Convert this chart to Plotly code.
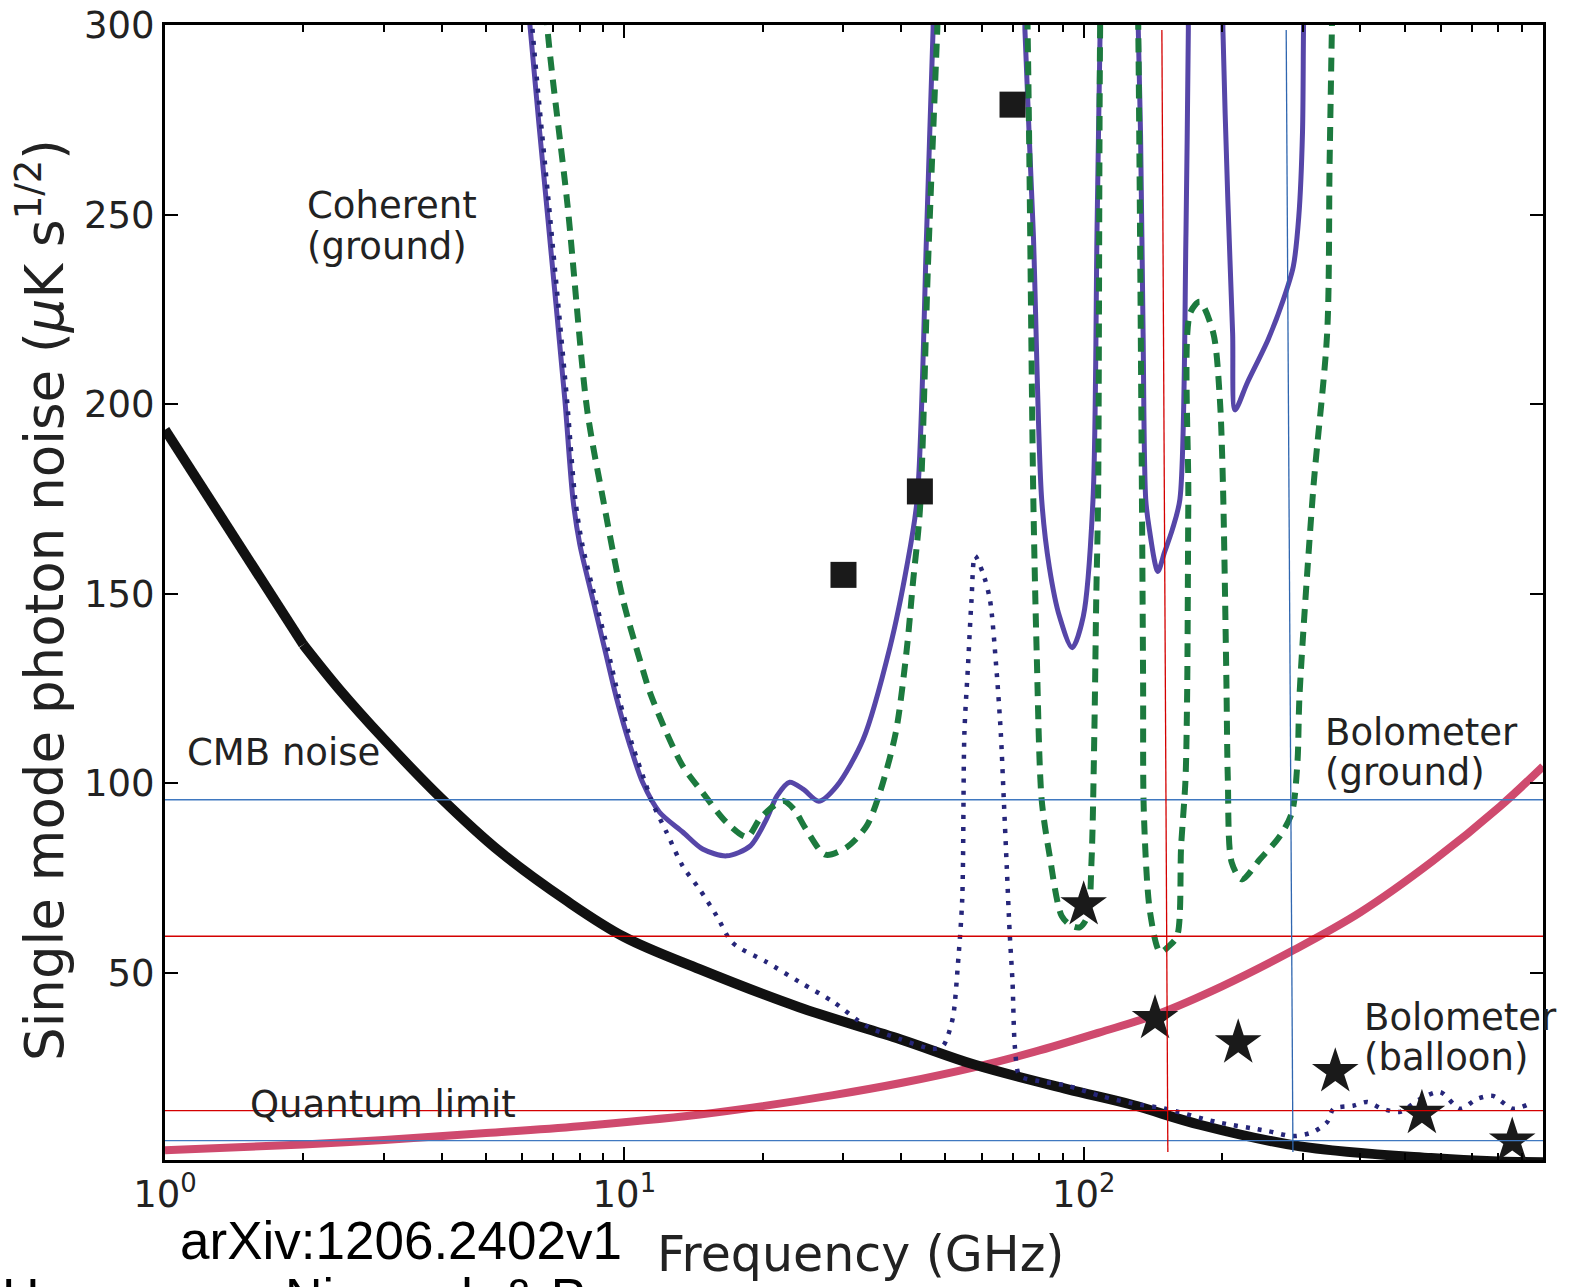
import plotly.graph_objects as go

# ---------------- data ----------------
# CMB noise (thick black)
cmb_freq = [1, 2, 2.4, 3, 4, 5.36, 7.5, 10, 14.6, 24, 40, 58, 92, 128, 179, 296, 570, 800, 1000]
cmb_noise = [193.3, 136.6, 124.7, 111.6, 96, 82, 69, 59.5, 51, 41, 32.5, 25.8, 19.4, 15.2, 10, 4.3, 1.2, 0.3, 0.1]

# Quantum limit (thick pink)
ql_freq = [1, 2, 3, 5, 8, 14.6, 20, 28.5, 40, 58, 78, 108, 145, 200, 286, 400, 575, 807, 1000]
ql_noise = [3.3, 4.8, 6.0, 7.8, 9.6, 12.7, 14.9, 17.8, 21, 25.2, 29.2, 34.3, 39.2, 46.5, 56, 66, 79.5, 94, 104.5]

# Coherent (ground), solid purple
coh_freq = [5.9, 6.23, 6.82, 7.42, 7.73, 8.0, 8.54, 9.07, 9.63, 10.27, 10.96, 11.93, 13.4, 14.8, 16.7, 18.8,
            20.4, 21.5, 22.9, 24.5, 26.5, 29.0, 33.1, 37.9, 41.2, 43.4, 45.5, 47.0, 48.5,
            73.5, 74.5, 77.7, 81.0, 84.2, 88.6, 94.4, 99.8, 104.8, 106.9, 108.6, 110,
            130, 131.5, 133, 134.7, 136.5, 139, 145, 150, 156, 162, 167, 169, 171,
            199, 201, 206, 211, 213.6, 227, 252, 272, 286, 294, 299.5, 301, 304]
coh_noise = [340, 300, 248.7, 201.3, 174.9, 163, 148.5, 135.3, 122.2, 110.3, 100.3, 92.4, 87.2, 82.7, 80.9, 83.5,
             90.6, 96.7, 100.3, 98.5, 95.3, 99.3, 111.6, 136.1, 157.2, 174.9, 245, 298.6, 340,
             340, 298.6, 245, 175, 157, 144, 135.8, 144, 174.9, 245, 298.6, 340,
             340, 298.6, 271, 218.8, 174.9, 167, 155.9, 161, 167, 174.9, 245, 298.6, 340,
             340, 298.6, 253.9, 218.8, 198.5, 205.6, 217, 227.5, 236.3, 249.5, 271.6, 298.6, 340]

# Coherent, dashed green
dash_freq = [6.5, 6.79, 7.52, 8.3, 8.99, 9.93, 10.97, 11.37, 12.35, 13.4, 14.8, 16.7, 18.5, 19.7, 21.1,
             22.2, 23.4, 24.9, 27.4, 30.5, 33.7, 36, 39, 41.2, 42.5, 44, 45.8, 48, 49.5,
             74, 75.5, 77.7, 79, 81, 84.2, 89.6, 94, 98.2, 102, 104, 105.5, 106.5, 107.5, 108.6, 110,
             130, 131.5, 133.5, 134.7, 135.2, 139.5, 146.7, 153, 159.7, 163, 166.6, 168, 169, 170.5,
             179, 191.5, 198, 201, 204.5, 206, 210, 221, 242, 267, 284, 292, 295, 316, 339, 343, 347, 352]
dash_noise = [340, 300, 252.6, 198.5, 174.9, 148.5, 130, 124, 113.4, 104.6, 97.6, 89.7, 85.9, 90.6, 94,
              95.4, 93.2, 87.8, 81.2, 83.2, 88.8, 97.6, 113.5, 135.4, 153, 172, 236, 298.6, 340,
              340, 298.6, 175, 135, 95.8, 81.4, 65, 62.5, 62.1, 65, 79.3, 113.4, 148.5, 175, 298.6, 340,
              340, 298.6, 200, 127.4, 92.4, 66, 55.5, 57, 59.7, 83.5, 101, 124, 175, 224,
              227, 218.8, 201, 179, 127.4, 101, 79.2, 74.7, 80, 86, 92.3, 105.5, 123, 177.4, 219, 262.6, 298.6, 340]

# Dotted navy
dot_freq = [6.0, 6.3, 6.9, 7.5, 7.82, 8.1, 8.65, 9.2, 9.75, 10.4, 11.1, 11.5, 12.35, 13.4, 14.6, 15.9, 17.2,
            20.4, 24.1, 28.5, 33.7, 39.8, 47, 49.4, 50.6, 52, 53.2, 54.4, 55, 56, 57, 58, 60.3, 62.5,
            64.5, 66, 67, 68, 69, 70, 70.9, 72.6, 80, 92, 108.6, 128, 150.6, 195, 250, 286, 316, 339,
            350, 386, 414, 447, 489, 540, 597, 660, 718, 778, 861, 951]
dot_noise = [340, 300, 248.7, 201.3, 174.9, 163, 148.5, 135.3, 122.2, 110.3, 100.3, 95, 87.2, 78.2, 72, 65, 58,
             52.9, 47.6, 42.4, 36, 32.6, 30, 30.8, 33.4, 38.7, 51.8, 69.5, 113.4, 131, 148.5, 160, 155.6, 148.5,
             130.9, 113.4, 95.8, 78.2, 60.8, 47.6, 30, 22.9, 21.5, 20.3, 17.6, 15.6, 14.2, 10.7, 8.4, 7.0, 8.1, 10.7,
             14.2, 15, 16, 14.2, 13.4, 16.8, 18.6, 14.2, 16.8, 17.6, 14.2, 16]

# Experiments
square_freq = [30, 44, 70]
square_noise = [155, 177, 279]
star_freq = [100, 143, 217, 353, 545, 857]
star_noise = [68, 38, 31.6, 24, 13, 5.7]

# Overlaid guide lines
guide_red_h = [59.7, 13.7]
guide_blue_h = [95.7, 5.8]
guide_red_v = [148, 152.5]      # top freq, bottom freq
guide_blue_v = [276, 285.5]
guide_v_span = [298.7, 2.8]     # top value, bottom value

x_tickvals = [1, 10, 100, 1000]
x_ticktext = ["10<sup>0</sup>", "10<sup>1</sup>", "10<sup>2</sup>", "10<sup>3</sup>"]
y_tickvals = [50, 100, 150, 200, 250, 300]
minor_vals = [m * d for d in (1, 10, 100) for m in range(2, 10)]

# ---------------- figure ----------------
W, H = 1569, 1287
L, R, T, B = 165, 1543, 25, 1160


def px(x):
    return (x - L) / (R - L)


def py(y):
    return (B - y) / (B - T)


fig = go.Figure()
fig.add_trace(go.Scatter(x=ql_freq, y=ql_noise, mode='lines',
                         line=dict(color='#cf4a6e', width=8, shape='spline', smoothing=1.0)))
fig.add_trace(go.Scatter(x=cmb_freq[:2], y=cmb_noise[:2], mode='lines',
                         line=dict(color='#111111', width=10)))
fig.add_trace(go.Scatter(x=cmb_freq[1:], y=cmb_noise[1:], mode='lines',
                         line=dict(color='#111111', width=10, shape='spline', smoothing=1.0)))
fig.add_trace(go.Scatter(x=coh_freq, y=coh_noise, mode='lines',
                         line=dict(color='#5646a8', width=5, shape='spline', smoothing=0.8)))
fig.add_trace(go.Scatter(x=dash_freq, y=dash_noise, mode='lines',
                         line=dict(color='#1c7a3e', width=6, dash='14px,9px', shape='spline', smoothing=0.8)))
fig.add_trace(go.Scatter(x=dot_freq, y=dot_noise, mode='lines',
                         line=dict(color='#26267a', width=4.5, dash='4px,8px', shape='spline', smoothing=0.8)))
fig.add_trace(go.Scatter(x=square_freq, y=square_noise, mode='markers',
                         marker=dict(symbol='square', size=26, color='#1a1a1a')))
fig.add_trace(go.Scatter(x=star_freq, y=star_noise, mode='markers',
                         marker=dict(symbol='star', size=35, color='#1a1a1a')))

for v in guide_red_h:
    fig.add_trace(go.Scatter(x=[1, 1000], y=[v, v], mode='lines', line=dict(color='#d40000', width=1.3)))
for v in guide_blue_h:
    fig.add_trace(go.Scatter(x=[1, 1000], y=[v, v], mode='lines', line=dict(color='#3f78c0', width=1.3)))
fig.add_trace(go.Scatter(x=guide_red_v, y=guide_v_span, mode='lines', line=dict(color='#d40000', width=1.3)))
fig.add_trace(go.Scatter(x=guide_blue_v, y=guide_v_span, mode='lines', line=dict(color='#2f66b0', width=1.3)))

axis_common = dict(showline=True, linecolor='black', linewidth=3, mirror='allticks',
                   ticks='inside', ticklen=13, tickwidth=2, tickcolor='black',
                   showgrid=False, zeroline=False, automargin=False,
                   tickfont=dict(family='DejaVu Sans', size=37, color='#222'))
fig.update_xaxes(type='log', range=[0, 3], tickvals=x_tickvals, ticktext=x_ticktext,
                 minor=dict(ticks='inside', ticklen=7, tickwidth=1.5, tickcolor='black',
                            tickvals=minor_vals, showgrid=False),
                 **axis_common)
fig.update_yaxes(range=[0.7, 300], tickvals=y_tickvals, **axis_common)

ann = []
txt_font = dict(family='DejaVu Sans', size=37, color='#222')
labels = [("Coherent", 305, 205), ("(ground)", 305, 246), ("CMB noise", 185, 753),
          ("Quantum limit", 248, 1104), ("Bolometer", 1323, 732), ("(ground)", 1323, 772),
          ("Bolometer", 1362, 1017), ("(balloon)", 1362, 1057)]
for t, x, y in labels:
    ann.append(dict(text=t, x=px(x), y=py(y), xref='paper', yref='paper', xanchor='left',
                    yanchor='middle', showarrow=False, font=txt_font))
ann.append(dict(text="Frequency (GHz)", x=px(860), y=py(1254), xref='paper', yref='paper',
                xanchor='center', yanchor='middle', showarrow=False,
                font=dict(family='DejaVu Sans', size=49, color='#222')))
ann.append(dict(text="Single mode photon noise (<i>μ</i>K s<sup>1/2</sup>)", x=px(41), y=py(600),
                xref='paper', yref='paper', xanchor='center', yanchor='middle', textangle=-90,
                showarrow=False, font=dict(family='DejaVu Sans', size=53, color='#222')))
ann.append(dict(text="arXiv:1206.2402v1", x=px(401), y=py(1240), xref='paper', yref='paper',
                xanchor='center', yanchor='middle', showarrow=False,
                font=dict(family='Liberation Sans', size=53, color='black')))
credit_font = dict(family='Liberation Sans', size=52, color='black')
ann.append(dict(text="Hanany,", x=px(0), y=py(1297), xref='paper', yref='paper',
                xanchor='left', yanchor='middle', showarrow=False, font=credit_font))
ann.append(dict(text="Niemack &amp; Page", x=px(283), y=py(1297), xref='paper', yref='paper',
                xanchor='left', yanchor='middle', showarrow=False, font=credit_font))

fig.update_layout(width=W, height=H, margin=dict(l=L, r=W - R, t=T, b=H - B, pad=0),
                  paper_bgcolor='white', plot_bgcolor='white', showlegend=False,
                  annotations=ann, font=dict(family='DejaVu Sans', color='#222'))

fig.write_html("out.html")
